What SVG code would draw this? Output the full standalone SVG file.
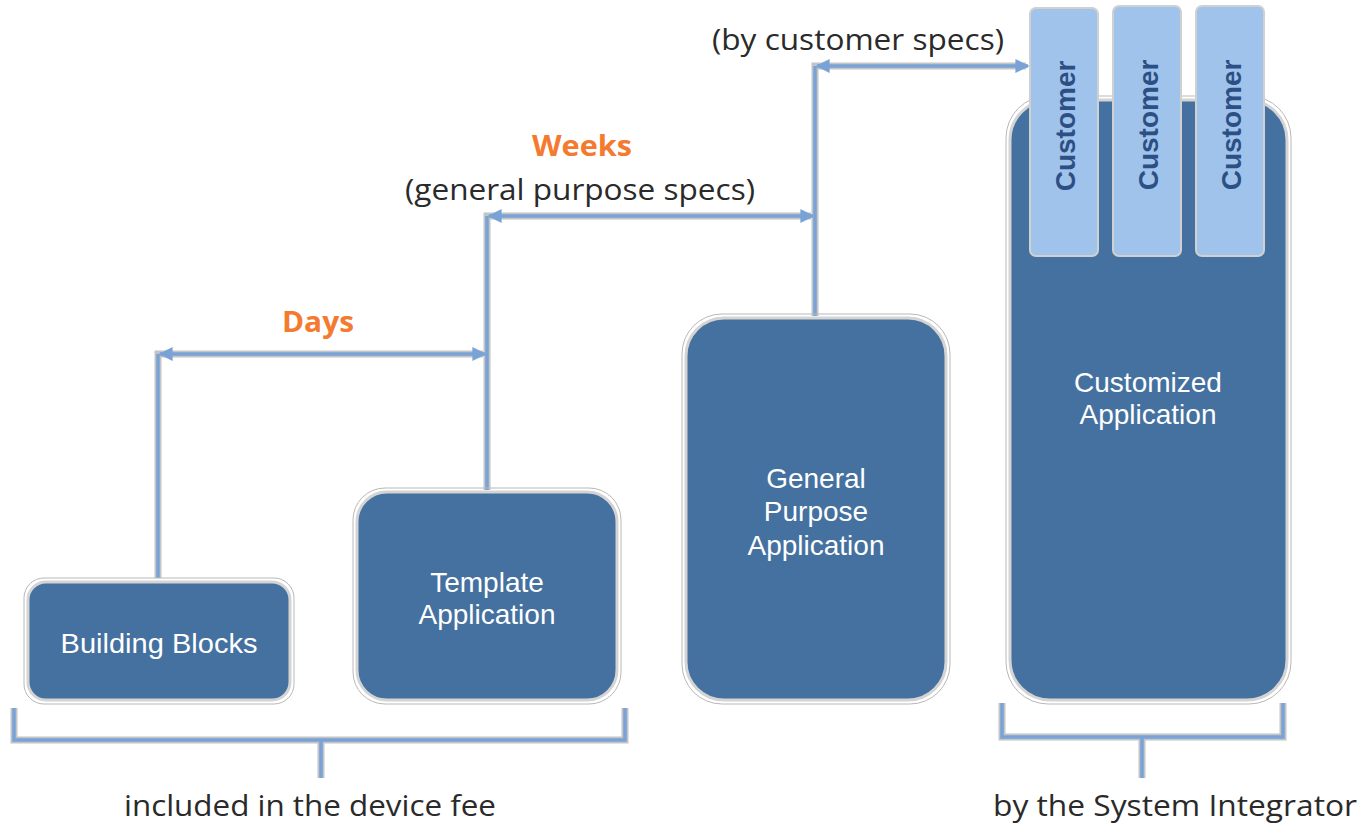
<svg xmlns="http://www.w3.org/2000/svg" width="1361" height="828" viewBox="0 0 1361 828">
<defs>
<style>
.box{fill:#44719f;stroke:#d4d4d4;stroke-width:3}
.halo{fill:none;stroke:#b8b8b8;stroke-width:1}
.tab{fill:#9fc3ea;stroke:#d0d0d0;stroke-width:2}
.bt{font-family:"Liberation Sans",Arial,sans-serif;font-size:28px;fill:#ffffff;text-anchor:middle}
.ct{font-family:"Liberation Sans",Arial,sans-serif;font-size:28px;font-weight:bold;fill:#2c4f85;text-anchor:middle}
.lbl{font-family:"Open Sans","Liberation Sans",sans-serif;font-size:30px;fill:#2a2a2a;text-anchor:middle}
.or{font-family:"Open Sans","Liberation Sans",sans-serif;font-size:29px;font-weight:bold;fill:#f47a30;text-anchor:middle}
.under{fill:none;stroke:#c4c4c4;stroke-width:7}
.line{fill:none;stroke:#79a3d6;stroke-width:3.5}
</style>
<marker id="ah" viewBox="0 0 10 10" refX="9" refY="5" markerWidth="4" markerHeight="4" orient="auto-start-reverse" markerUnits="strokeWidth">
<path d="M0,0 L10,5 L0,10 Z" fill="#79a3d6"/>
</marker>
</defs>
<rect width="1361" height="828" fill="#ffffff"/>

<g id="connectors">
<path class="under" d="M158,578 V354 H483"/>
<path class="under" d="M487,490 V216 H811"/>
<path class="under" d="M815,316 V66 H1026"/>
<path class="under" d="M14,708 V740 H321 V778 M321,740 H625 V708"/>
<path class="under" d="M1002,703 V737 H1142 V778 M1142,737 H1283 V703"/>
<path class="line" d="M158,578 V354" />
<path class="line" d="M160,354 H485" marker-start="url(#ah)" marker-end="url(#ah)"/>
<path class="line" d="M487,490 V216"/>
<path class="line" d="M489,216 H813" marker-start="url(#ah)" marker-end="url(#ah)"/>
<path class="line" d="M815,316 V66"/>
<path class="line" d="M817,66 H1028" marker-start="url(#ah)" marker-end="url(#ah)"/>
<path class="line" d="M14,708 V740 H321 V778 M321,740 H625 V708"/>
<path class="line" d="M1002,703 V737 H1142 V778 M1142,737 H1283 V703"/>
</g>

<g id="building-blocks">
<rect class="halo" x="24" y="578" width="270" height="126" rx="20"/>
<rect class="box" x="28" y="582" width="262" height="118" rx="18"/>
<text class="bt" x="159" y="653" textLength="197" lengthAdjust="spacingAndGlyphs">Building Blocks</text>
</g>

<g id="template-application">
<rect class="halo" x="353" y="488" width="268" height="216" rx="32"/>
<rect class="box" x="357" y="492" width="260" height="208" rx="30"/>
<text class="bt" x="487" y="592">Template</text>
<text class="bt" x="487" y="624">Application</text>
</g>

<g id="general-purpose-application">
<rect class="halo" x="682" y="314" width="268" height="390" rx="40"/>
<rect class="box" x="686" y="318" width="260" height="382" rx="38"/>
<text class="bt" x="816" y="488">General</text>
<text class="bt" x="816" y="521">Purpose</text>
<text class="bt" x="816" y="555">Application</text>
</g>

<g id="customized-application">
<rect class="halo" x="1006" y="96" width="285" height="608" rx="42"/>
<rect class="box" x="1010" y="100" width="277" height="600" rx="40"/>
<text class="bt" x="1148" y="392">Customized</text>
<text class="bt" x="1148" y="424">Application</text>
</g>

<g id="customer-1">
<rect class="tab" x="1030" y="8" width="68" height="248" rx="6"/>
<text class="ct" transform="translate(1075,126) rotate(-90)">Customer</text>
</g>
<g id="customer-2">
<rect class="tab" x="1113" y="6" width="68" height="250" rx="6"/>
<text class="ct" transform="translate(1158,125) rotate(-90)">Customer</text>
</g>
<g id="customer-3">
<rect class="tab" x="1196" y="6" width="68" height="250" rx="6"/>
<text class="ct" transform="translate(1241,125) rotate(-90)">Customer</text>
</g>

<g id="labels">
<text class="or" x="318" y="332" textLength="72" lengthAdjust="spacingAndGlyphs">Days</text>
<text class="or" x="582" y="156" textLength="100" lengthAdjust="spacingAndGlyphs">Weeks</text>
<text class="lbl" x="580" y="200" textLength="350" lengthAdjust="spacingAndGlyphs">(general purpose specs)</text>
<text class="lbl" x="858" y="50" textLength="292" lengthAdjust="spacingAndGlyphs">(by customer specs)</text>
<text class="lbl" x="310" y="816" textLength="372" lengthAdjust="spacingAndGlyphs">included in the device fee</text>
<text class="lbl" x="1175" y="816" textLength="364" lengthAdjust="spacingAndGlyphs">by the System Integrator</text>
</g>
</svg>
